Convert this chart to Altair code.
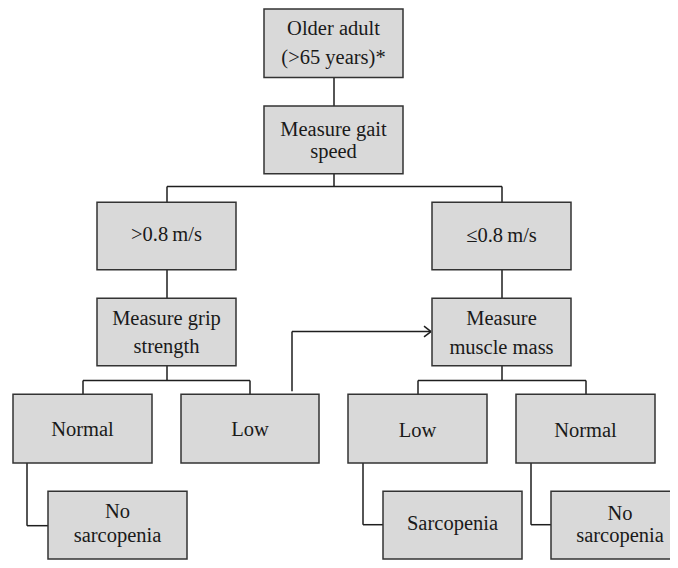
import altair as alt
import pandas as pd

# ---- boxes (reference pixel layout) ----
box_left = [264, 264, 97, 432, 97, 432, 13, 181, 348, 516, 48, 383, 551]
box_right = [403, 403, 236, 571, 236, 571, 152, 319, 487, 655, 187, 522, 690]
box_top = [6, 105, 203, 203, 301, 301, 399, 399, 399, 399, 498, 498, 498]
box_bottom = [76, 174, 272, 272, 370, 370, 469, 469, 469, 469, 567, 567, 567]

# ---- text lines ----
line_text = ["Older adult", "(>65 years)*", "Measure gait", "speed",
             ">0.8\u2009m/s", "\u22640.8\u2009m/s",
             "Measure grip", "strength", "Measure", "muscle mass",
             "Normal", "Low", "Low", "Normal",
             "No", "sarcopenia", "Sarcopenia", "No", "sarcopenia"]
line_x = [333.5, 333.5, 333.5, 333.5, 166.5, 501.5, 166.5, 166.5, 501.5, 501.5,
          82.5, 250, 417.5, 585.5, 117.5, 117.5, 452.5, 620, 620]
line_y = [32.5, 62.5, 136, 157.5, 243, 243.5, 328.5, 357, 328.5, 358,
          442, 442, 442.5, 442.5, 525.5, 550, 537, 527, 550]

# ---- connector segments ----
seg_x1 = [334, 334, 167, 167, 502, 167, 502, 167, 83, 83, 250, 502, 418, 418, 586,
          292, 292, 424, 424, 27, 27, 363, 363, 531, 531]
seg_y1 = [76, 174, 187, 187, 187, 272, 272, 370, 385, 385, 385, 370, 385, 385, 385,
          396, 335, 329.5, 340.5, 469, 533, 469, 532, 469, 532]
seg_x2 = [334, 334, 502, 167, 502, 167, 502, 167, 250, 83, 250, 502, 586, 418, 586,
          292, 431, 431, 431, 27, 48, 363, 383, 531, 551]
seg_y2 = [105, 187, 187, 203, 203, 301, 301, 385, 385, 399, 399, 385, 385, 399, 399,
          335, 335, 335, 335, 533, 533, 532, 532, 532, 532]

boxes = pd.DataFrame({"x": box_left, "x2": box_right, "y": box_top, "y2": box_bottom})
texts = pd.DataFrame({"t": line_text, "x": line_x, "y": line_y})
segs = pd.DataFrame({"x": seg_x1, "y": seg_y1, "x2": seg_x2, "y2": seg_y2})

W, H = 662, 552
xs = alt.Scale(domain=[8, 670], nice=False, zero=False)
ys = alt.Scale(domain=[5, 568], nice=False, zero=False, reverse=True)

rules = alt.Chart(segs).mark_rule(color="#1e1e1e", strokeWidth=1.5).encode(
    x=alt.X("x:Q", scale=xs, axis=None),
    x2="x2:Q",
    y=alt.Y("y:Q", scale=ys, axis=None),
    y2="y2:Q",
)

rects = alt.Chart(boxes).mark_rect(
    fill="#d9d9d9", stroke="#333333", strokeWidth=1.5
).encode(
    x=alt.X("x:Q", scale=xs, axis=None),
    x2="x2:Q",
    y=alt.Y("y:Q", scale=ys, axis=None),
    y2="y2:Q",
)

labels = alt.Chart(texts).mark_text(
    font="Liberation Serif", fontSize=20.5, align="center", baseline="alphabetic",
    color="#1a1a1a"
).encode(
    x=alt.X("x:Q", scale=xs, axis=None),
    y=alt.Y("y:Q", scale=ys, axis=None),
    text="t:N",
)

chart = alt.layer(rules, rects, labels).properties(
    width=W, height=H, padding=0, autosize="none", background="white"
).configure_view(stroke=None)

chart.save("out.html", embed_options={"renderer": "svg", "actions": False})
